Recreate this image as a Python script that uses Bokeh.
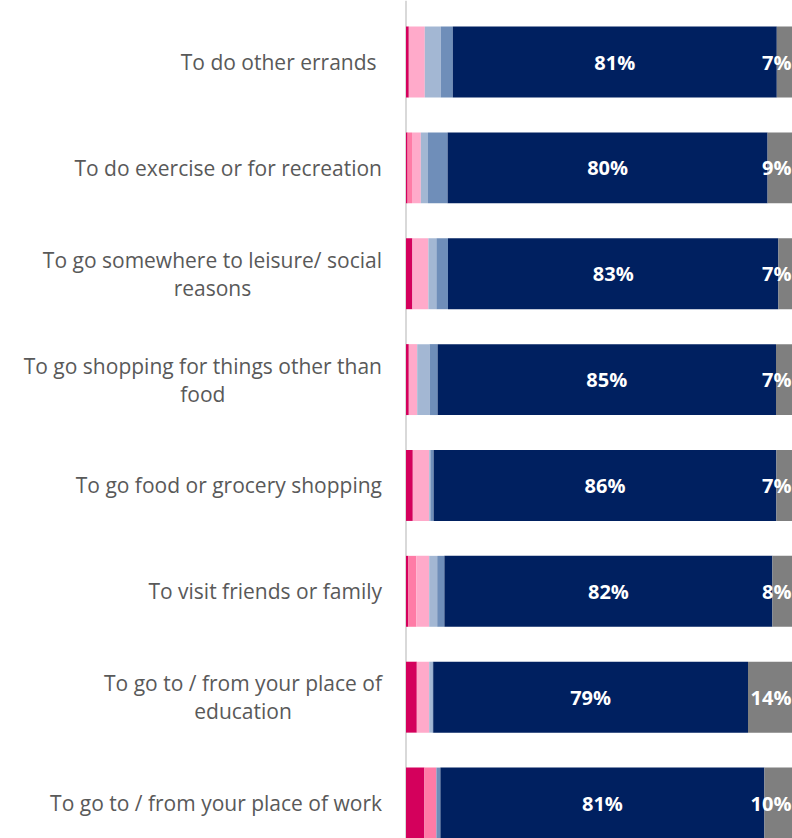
import numpy as np
import pandas as pd
from bokeh.plotting import figure
from bokeh.models import ColumnDataSource, Range1d, Span
from bokeh.core.properties import value
from bokeh.embed import file_html
from bokeh.resources import INLINE

categories = [
    "To do other errands ",
    "To do exercise or for recreation",
    "To go somewhere to leisure/ social\nreasons",
    "To go shopping for things other than\nfood",
    "To go food or grocery shopping",
    "To visit friends or family",
    "To go to / from your place of\neducation",
    "To go to / from your place of work",
]
seg_names = ["s1", "s2", "s3", "s4", "s5", "s6", "s7"]
seg1 = [0.7, 0.4, 1.6, 0.7, 1.7, 0.6, 2.7, 4.6]
seg2 = [0.0, 1.1, 0.0, 0.0, 0.0, 2.0, 0.0, 3.0]
seg3 = [4.0, 2.2, 4.0, 2.1, 4.1, 3.2, 3.1, 0.0]
seg4 = [4.0, 1.8, 2.0, 3.1, 0.3, 2.0, 0.8, 0.0]
seg5 = [3.0, 4.9, 2.9, 2.0, 0.8, 1.8, 0.2, 1.0]
seg6 = [81.0, 80.0, 82.6, 84.6, 85.7, 82.0, 78.7, 81.0]
seg7 = [7.0, 9.0, 7.0, 7.0, 7.0, 8.0, 14.0, 10.0]
colors = ["#D4005C", "#FF7BA6", "#FFAACA", "#A3B7D3", "#6F8EB9", "#002060", "#7F7F7F"]

ypos = list(range(len(categories)))
df = pd.DataFrame({"y": ypos, "label": categories, "s1": seg1, "s2": seg2, "s3": seg3,
                   "s4": seg4, "s5": seg5, "s6": seg6, "s7": seg7})
src = ColumnDataSource(df)

W, H = 792, 838
X_START, X_END = -101.375, 96.625
p = figure(width=W, height=H, output_backend="svg", toolbar_location=None,
           x_range=Range1d(X_START, X_END), y_range=Range1d(7.335, -0.581),
           min_border_left=0, min_border_right=0, min_border_top=0, min_border_bottom=0)
p.outline_line_color = None
p.xaxis.visible = False
p.yaxis.visible = False
p.xgrid.visible = False
p.ygrid.visible = False

p.add_layout(Span(location=0, dimension="height", line_color="#D9D9D9", line_width=2, level="underlay"))

p.hbar_stack(seg_names, y="y", height=0.67, color=colors, line_color=None, source=src)

before6 = np.array(seg1) + np.array(seg2) + np.array(seg3) + np.array(seg4) + np.array(seg5)
navy_x = before6 + np.array(seg6) / 2
navy_src = ColumnDataSource(dict(x=list(navy_x), y=ypos, t=[f"{round(v)}%" for v in seg6]))
p.text(x="x", y="y", text="t", source=navy_src, text_color="white", text_font=value("Open Sans"),
       text_font_style="bold", text_font_size="20px", text_align="center", text_baseline="middle")

grey_src = ColumnDataSource(dict(x=[X_END] * len(ypos), y=ypos, t=[f"{round(v)}%" for v in seg7]))
p.text(x="x", y="y", text="t", source=grey_src, x_offset=-1, text_color="white",
       text_font=value("Open Sans"), text_font_style="bold", text_font_size="20px",
       text_align="right", text_baseline="middle")

cat_src = ColumnDataSource(dict(x=[0] * len(categories), y=ypos, t=categories))
p.text(x="x", y="y", text="t", source=cat_src, x_offset=-24, anchor="center_right",
       text_align="center", text_baseline="middle", text_color="#595959",
       text_font=value("Open Sans"), text_font_size="21px", text_line_height=1.0)

open("out.html", "w").write(file_html(p, INLINE))
